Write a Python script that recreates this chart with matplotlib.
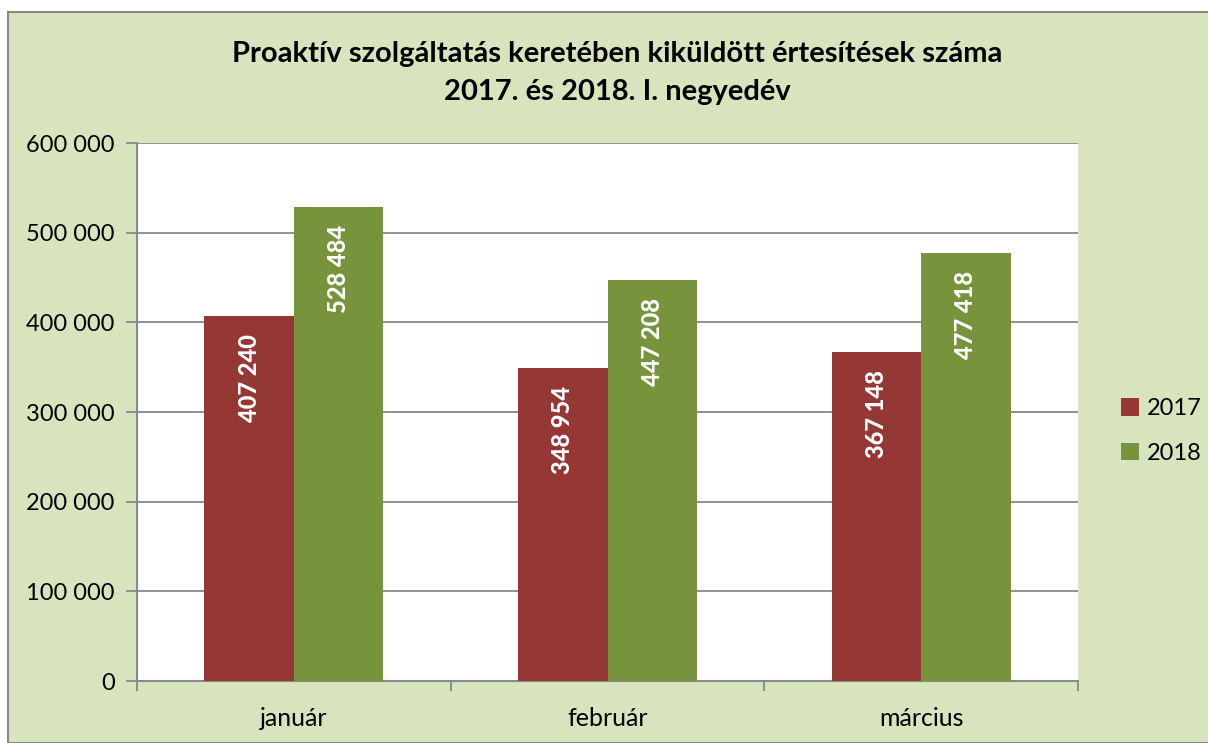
import matplotlib.pyplot as plt
import numpy as np

plt.rcParams['font.family'] = ['Lato', 'DejaVu Sans']

# adatok
honapok = ['január', 'február', 'március']
ertekek_2017 = [407240, 348954, 367148]
ertekek_2018 = [528484, 447208, 477418]
y_tickek = [0, 100000, 200000, 300000, 400000, 500000, 600000]

bg = '#D7E4BD'
piros = '#953735'
zold = '#77933C'
szurke = '#898989'


def formaz(v):
    return '{:,}'.format(v).replace(',', ' ')


fig = plt.figure(figsize=(12.08, 7.43), dpi=100)
fig.patch.set_facecolor('white')

# zöld háttér kerettel
hatter = plt.Rectangle((8 / 1208, 0), 1.0, 1 - 12 / 743, transform=fig.transFigure,
                       facecolor=bg, edgecolor=szurke, linewidth=1.5, zorder=-1)
fig.patches.append(hatter)

ax = fig.add_axes([137 / 1208, 1 - 681 / 743, 941 / 1208, 538 / 743])
ax.set_zorder(2)
ax.set_facecolor('white')

x = np.arange(len(honapok))
w = 0.285
b1 = ax.bar(x - w / 2, ertekek_2017, w, color=piros, label='2017', zorder=3)
b2 = ax.bar(x + w / 2, ertekek_2018, w, color=zold, label='2018', zorder=3)

for bars, vals in [(b1, ertekek_2017), (b2, ertekek_2018)]:
    for r, v in zip(bars, vals):
        ax.annotate(formaz(v), (r.get_x() + r.get_width() / 2, v), xytext=(0, -13),
                    textcoords='offset points', rotation=90, ha='center', va='top',
                    color='white', fontsize=17, fontweight='black', zorder=4)

ax.set_xlim(-0.5, 2.5)
ax.set_ylim(0, 600000)
ax.set_yticks(y_tickek)
ax.set_yticklabels([formaz(t) for t in y_tickek], fontsize=17)
ax.yaxis.grid(True, color=szurke, linewidth=1.3, zorder=1)
ax.set_axisbelow(True)

ax.set_xticks([-0.5, 0.5, 1.5, 2.5])
ax.set_xticklabels([])
ax.set_xticks(x, minor=True)
ax.set_xticklabels(honapok, minor=True, fontsize=18)
ax.tick_params(axis='x', which='minor', length=0, pad=19)
ax.tick_params(axis='x', which='major', length=7, color=szurke, width=1.3)
ax.tick_params(axis='y', length=8, color=szurke, width=1.3, pad=8)

for s in ['top', 'right']:
    ax.spines[s].set_visible(False)
for s in ['left', 'bottom']:
    ax.spines[s].set_color(szurke)
    ax.spines[s].set_linewidth(1.5)

fig.text(617 / 1208, 1 - 73 / 743,
         'Proaktív szolgáltatás keretében kiküldött értesítések száma\n2017. és 2018. I. negyedév',
         ha='center', va='center', fontsize=21, fontweight='bold', linespacing=1.55)

leg = fig.legend(handles=[b1, b2], loc='center left', bbox_to_anchor=(1121 / 1208, 1 - 431 / 743),
                 frameon=False, fontsize=17, handlelength=0.75, handleheight=0.75,
                 handletextpad=0.35, labelspacing=1.0, borderaxespad=0, borderpad=0)

fig.savefig('out.png', dpi=100, facecolor=fig.get_facecolor())
